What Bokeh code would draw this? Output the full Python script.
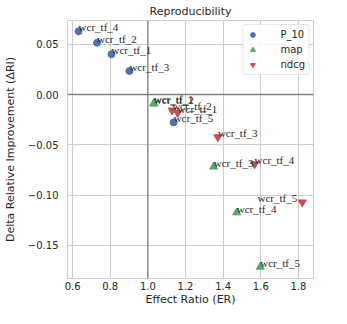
from bokeh.plotting import figure
from bokeh.models import FixedTicker, Span, ColumnDataSource, LabelSet
from bokeh.embed import file_html
from bokeh.resources import INLINE

runs = ["wcr_tf_1", "wcr_tf_2", "wcr_tf_3", "wcr_tf_4", "wcr_tf_5"]

p10_er = [0.807, 0.730, 0.902, 0.632, 1.137]
p10_dri = [0.0401, 0.0515, 0.0233, 0.0629, -0.0277]

map_er = [1.031, 1.033, 1.350, 1.472, 1.597]
map_dri = [-0.0088, -0.0092, -0.0718, -0.1174, -0.1714]

ndcg_er = [1.158, 1.129, 1.372, 1.567, 1.820]
ndcg_dri = [-0.0182, -0.0158, -0.0424, -0.0693, -0.1072]

x_ticks = [0.6, 0.8, 1.0, 1.2, 1.4, 1.6, 1.8]
x_tick_labels = ["0.6", "0.8", "1.0", "1.2", "1.4", "1.6", "1.8"]
y_ticks = [-0.15, -0.1, -0.05, 0.0, 0.05]
y_tick_labels = ["\u22120.15", "\u22120.10", "\u22120.05", "0.00", "0.05"]

FONT = "DejaVu Sans"
TXT = "#262626"
X_START, X_END = 0.573, 1.880

p = figure(width=331, height=308, output_backend="svg", toolbar_location=None,
           x_range=(X_START, X_END), y_range=(-0.183, 0.0736),
           title="Reproducibility",
           min_border_left=63, min_border_right=18, min_border_top=0, min_border_bottom=0)

p.background_fill_color = "white"
p.border_fill_color = "white"
p.outline_line_color = "#cccccc"
p.outline_line_width = 1

p.title.align = "center"
p.title.text_font = FONT
p.title.text_font_size = "11px"
p.title.text_font_style = "normal"
p.title.text_color = TXT
p.title.standoff = 5

p.xaxis.ticker = FixedTicker(ticks=x_ticks)
p.yaxis.ticker = FixedTicker(ticks=y_ticks)
p.xaxis.major_label_overrides = dict(zip(x_ticks, x_tick_labels))
p.yaxis.major_label_overrides = dict(zip(y_ticks, y_tick_labels))

p.xaxis.axis_label = "Effect Ratio (ER)"
p.yaxis.axis_label = "Delta Relative Improvement (\u0394RI)"

for ax in (p.xaxis[0], p.yaxis[0]):
    ax.axis_line_color = None
    ax.major_tick_line_color = None
    ax.minor_tick_line_color = None
    ax.major_tick_out = 0
    ax.major_tick_in = 0
    ax.major_label_text_font = FONT
    ax.major_label_text_font_size = "10px"
    ax.major_label_text_color = TXT
    ax.axis_label_text_font = FONT
    ax.axis_label_text_font_size = "11px"
    ax.axis_label_text_font_style = "normal"
    ax.axis_label_text_color = TXT

p.xaxis.major_label_standoff = 3
p.xaxis.axis_label_standoff = 0
p.yaxis.major_label_standoff = 9
p.yaxis.axis_label_standoff = 8

for g in (p.xgrid[0], p.ygrid[0]):
    g.grid_line_color = "#cccccc"
    g.grid_line_width = 1

p.add_layout(Span(location=0, dimension="width", line_color="#808080", line_width=1.3))
p.add_layout(Span(location=1.0, dimension="height", line_color="#808080", line_width=1.3))

series = [
    ("P_10", p10_er, p10_dri, "circle", "#4c72b0", 7),
    ("map", map_er, map_dri, "triangle", "#55a868", 8),
    ("ndcg", ndcg_er, ndcg_dri, "inverted_triangle", "#c44e52", 8),
]

for name, xs, ys, marker, color, size in series:
    # labels that would run past the right edge of the frame are set to the left of their point
    near_edge = [x > X_END - 0.12 for x in xs]
    src = ColumnDataSource(dict(
        x=xs, y=ys, run=runs,
        align=["right" if e else "left" for e in near_edge],
        dx=[-5 if e else 0 for e in near_edge],
    ))
    p.scatter("x", "y", source=src, marker=marker, size=size, fill_color=color,
              line_color=color, legend_label=name)
    labels = LabelSet(x="x", y="y", text="run", source=src, text_font=FONT,
                      text_font_size="11px", text_color=TXT, text_align={"field": "align"},
                      x_offset={"field": "dx"}, text_baseline="alphabetic")
    p.add_layout(labels)

lg = p.legend[0]
lg.location = "top_right"
lg.margin = 4
lg.padding = 3
lg.spacing = 2
lg.glyph_width = 12
lg.glyph_height = 13
lg.label_height = 13
lg.label_standoff = 22
lg.label_text_font = FONT
lg.label_text_font_size = "10px"
lg.label_text_color = TXT
lg.border_line_color = "#cccccc"
lg.border_line_width = 1
lg.border_radius = 3
lg.background_fill_color = "white"
lg.background_fill_alpha = 0.8

open("out.html", "w").write(file_html(p, INLINE))
